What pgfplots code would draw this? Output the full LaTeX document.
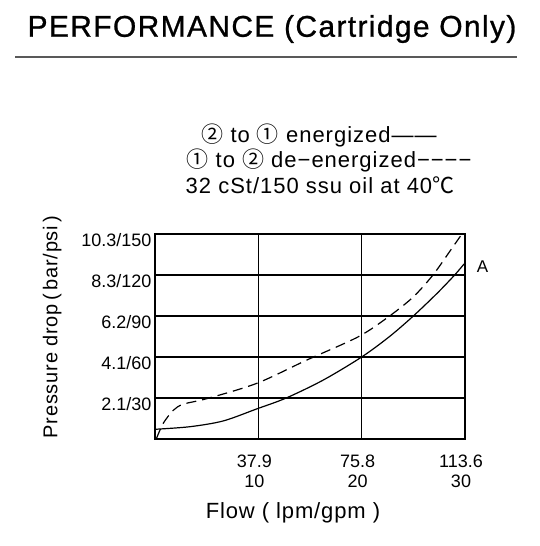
\documentclass[border=0pt]{standalone}
\usepackage{fontspec}
\setmainfont{Liberation Sans}
\newfontfamily\cjk{Noto Sans CJK SC}
\newfontfamily\spaced[LetterSpace=4.5]{Liberation Sans}
\newfontfamily\spacedcjk[LetterSpace=4.5]{Noto Sans CJK SC}
\newfontfamily\labelfont[LetterSpace=4]{Liberation Sans}
\newfontfamily\titlefont[LetterSpace=4.5,FakeBold=0.8]{Liberation Sans}
\usepackage{pgfplots}
\pgfplotsset{compat=1.18}
\begin{document}
\begin{tikzpicture}[x=1pt,y=1pt]
\path[use as bounding box] (0,0) rectangle (540,546);
\node[font=\fontsize{30}{34}\titlefont] at (272,517) {PERFORMANCE (Cartridge Only)};
\draw[line width=2pt, color=black!65] (15,489) -- (517,489);
\node[font=\fontsize{22}{22}\spaced] at (319,411) {{\spacedcjk ②} to {\spacedcjk ①} energized——};
\node[font=\fontsize{22}{22}\spaced] at (329,386) {{\spacedcjk ①} to {\spacedcjk ②} de−energized−−−−};
\node[font=\fontsize{22}{22}\spaced] at (320,361) {32 cSt/150 ssu oil at 40{\spacedcjk ℃}};
\begin{axis}[
  at={(155pt,107pt)}, anchor=south west,
  scale only axis, width=310pt, height=205pt,
  xmin=0, xmax=30, ymin=0, ymax=150,
  xtick={10,20,30}, ytick={30,60,90,120,150},
  xticklabels={{37.9\\10},{75.8\\20},{113.6\\30}},
  yticklabels={2.1/30,4.1/60,6.2/90,8.3/120,10.3/150},
  xticklabel style={align=center, font=\fontsize{18}{20}\selectfont, xshift=-4pt, yshift=-12pt},
  yticklabel style={font=\fontsize{18}{20}\selectfont, yshift=-6pt},
  /pgf/number format/assume math mode=true,
  major tick length=0pt,
  grid=major, grid style={black, line width=1.2pt},
  axis line style={line width=1.4pt, black},
  xlabel={Flow ( lpm/gpm )},
  ylabel={Pressure drop\,(\,bar/psi\,)},
  xlabel style={at={(axis description cs:0.445,-0.361)}, anchor=center, font=\fontsize{22}{24}\labelfont},
  ylabel style={at={(axis description cs:-0.332,0.546)}, anchor=center, rotate=0, font=\fontsize{20}{24}\labelfont},
  clip=false,
]
\addplot[black, line width=1.2pt, smooth] coordinates {(0,7.1)(3.39,9)(6.6,13.2)(9.84,22)(12.7,30)(16.3,43.2)(20,60)(22.7,75)(25,90)(27.3,106.6)(29,120)(29.9,128)};
\addplot[black, line width=1.2pt, smooth, dash pattern=on 10pt off 6pt] coordinates {(0.15,0.5)(0.8,11.5)(1.77,21)(2.74,25.5)(5,29.5)(9.84,40.7)(14.7,57.8)(19.7,74.9)(22.7,90)(25,104)(26.9,120)(28.5,137)(29.7,150)};
\node[font=\fontsize{17}{20}\selectfont] at (axis cs:31.7,126) {A};
\end{axis}
\end{tikzpicture}
\end{document}
